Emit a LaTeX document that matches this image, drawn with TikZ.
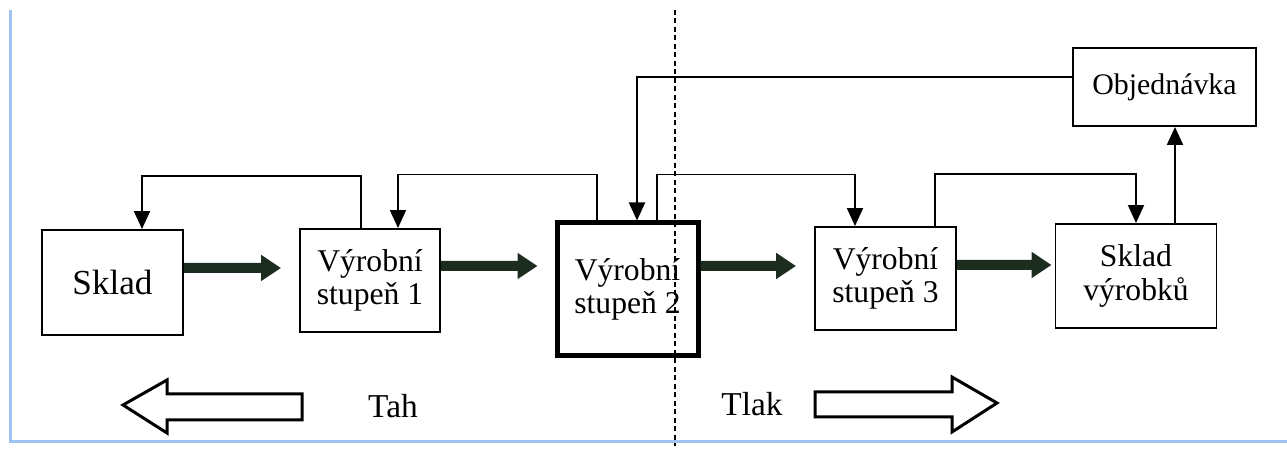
\documentclass[tikz,border=0pt]{standalone}
\usepackage{fontspec}
\setmainfont{Liberation Serif}
\usetikzlibrary{arrows.meta}
\tikzset{every picture/.style={line width=1.1pt}}
\definecolor{flowgreen}{RGB}{28,44,30}
\definecolor{frameblue}{RGB}{160,196,240}

\begin{document}
\begin{tikzpicture}[x=0.2mm, y=-0.2mm, line join=miter, >={Triangle[length=3.6mm,width=3.2mm]},
	box/.style={draw, inner sep=0pt, align=center, font=\fontsize{18}{19}\selectfont},
	flow/.style={draw=flowgreen, line width=2mm, -{Triangle[length=4mm,width=5mm]}},
	fb/.style={->},
	hollow/.style={draw, line width=0.6mm, line join=miter},
	label/.style={font=\fontsize{19}{20}\selectfont}]
	\useasboundingbox (0,0) rectangle (1287,453);
	\draw[frameblue, line width=0.6mm] (10,10) -- (10,442) -- (1287,442);
	% boxes
	\node[box, minimum width=28.2mm, minimum height=21mm, font=\fontsize{20}{22}\selectfont] (sklad) at (112.5,282.5) {Sklad};
	\node[box, minimum width=28mm, minimum height=20.6mm] (vs1) at (370,280.5) {Výrobní\\stupeň 1};
	\node[box, line width=1mm, minimum width=28.2mm, minimum height=26.6mm] (vs2) at (627.5,289.5) {Výrobní\\stupeň 2};
	\node[box, minimum width=28.2mm, minimum height=20.6mm] (vs3) at (885.5,278.5) {Výrobní\\stupeň 3};
	\node[box, minimum width=32.2mm, minimum height=20.8mm] (skladv) at (1136,276) {Sklad\\výrobků};
	\node[box, minimum width=36.6mm, minimum height=15.6mm, font=\fontsize{17}{18}\selectfont] (obj) at (1164.5,87) {Objednávka};
	% material flow
	\draw[flow, shorten >=3.6mm] ([yshift=2.9mm]sklad.east) -- ([yshift=2.5mm]vs1.west);
	\draw[flow, shorten >=3.4mm] ([yshift=2.9mm]vs1.east) -- ([yshift=4.7mm]vs2.west);
	\draw[flow, shorten >=3.6mm] ([yshift=4.7mm]vs2.east) -- ([yshift=2.5mm]vs3.west);
	\draw[flow, shorten >=0.6mm] ([yshift=2.7mm]vs3.east) -- ([yshift=2.2mm]skladv.west);
	% information flow
	\draw[fb] ([xshift=-1.8mm]vs1.north) -- ++(0,-52) -| ([xshift=5.9mm]sklad.north);
	\draw[fb] ([xshift=-6.1mm]vs2.north) -- ++(0,-46) -| ([xshift=5.6mm]vs1.north);
	\draw[fb] ([xshift=5.9mm]vs2.north) -- ++(0,-46) -| ([xshift=-6.1mm]vs3.north);
	\draw[fb] ([xshift=9.9mm]vs3.north) -- ++(0,-52) -| (skladv.north);
	\draw[fb] ([xshift=7.8mm]skladv.north) -- ([xshift=2.1mm]obj.south);
	\draw[fb] ([yshift=2mm]obj.west) -| ([xshift=1.9mm]vs2.north);
	% boundary
	\draw[dash pattern=on 1mm off 0.7mm, line width=0.3mm] (675,10) -- (675,446);
	% pull / push
	\draw[hollow] (302,394) -- (167,394) -- (167,380) -- (123,405) -- (167,433) -- (167,420) -- (302,420) -- cycle;
	\draw[hollow] (815,392) -- (952,392) -- (952,377) -- (997,403) -- (952,432) -- (952,417) -- (815,417) -- cycle;
	\node[label] (tah) at (393,406) {Tah};
	\node[label] (tlak) at (752,404) {Tlak};
\end{tikzpicture}
\end{document}
